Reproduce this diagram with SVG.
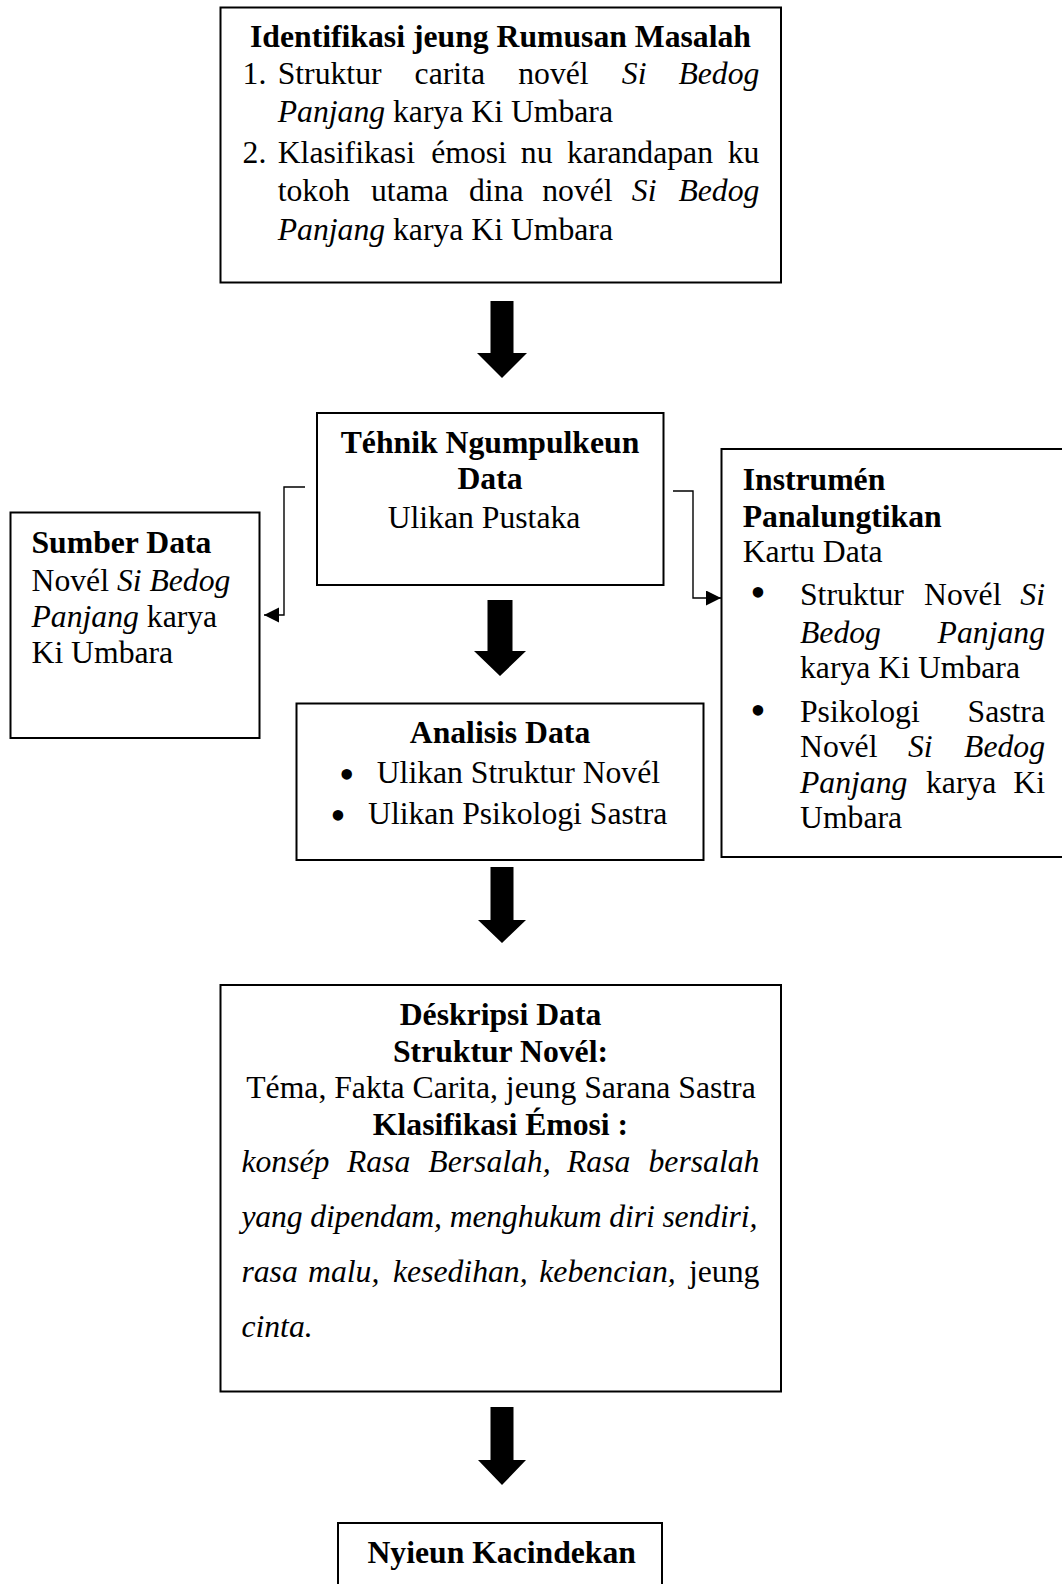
<svg xmlns="http://www.w3.org/2000/svg" width="1062" height="1584" viewBox="0 0 1062 1584">
<style>
.box{fill:#fff;stroke:#000;stroke-width:2}
text{font-family:"Liberation Serif","Times New Roman",serif;font-size:31.7px;fill:#000}
.b{font-weight:bold}
.i{font-style:italic}
.c{text-anchor:middle}
.e{text-anchor:end}
.bul{font-size:44px;text-anchor:middle}
.conn{fill:none;stroke:#000;stroke-width:1.4}
.big{fill:#000}
</style>
<defs>
<marker id="ah" markerUnits="userSpaceOnUse" markerWidth="16" markerHeight="16" refX="15" refY="7.5" orient="auto">
<path d="M0,0 L15,7.5 L0,15 Z" fill="#000"/>
</marker>
</defs>
<rect width="1062" height="1584" fill="#fff"/>

<g id="connectors">
<path class="conn" d="M305,487 H284 V615 H264" marker-end="url(#ah)"/>
<path class="conn" d="M673,491 H693 V598 H721" marker-end="url(#ah)"/>
<polygon class="big" points="490.5,301 513.5,301 513.5,353 527,353 502,378 477,353 490.5,353"/>
<polygon class="big" points="487.5,600 512.5,600 512.5,651 526,651 500,676 474,651 487.5,651"/>
<polygon class="big" points="490.5,867 513.5,867 513.5,920 526,920 502,943 478,920 490.5,920"/>
<polygon class="big" points="490.5,1407 513.5,1407 513.5,1460 526,1460 502,1485 478,1460 490.5,1460"/>
</g>

<g id="node-identifikasi">
<rect class="box" x="220.5" y="7.5" width="560.5" height="275"/>
<text class="b c" x="500.5" y="47">Identifikasi jeung Rumusan Masalah</text>
<text y="84"><tspan x="242.6">1.</tspan><tspan x="277.7">Struktur</tspan><tspan x="414.6">carita</tspan><tspan x="518.2">novél</tspan><tspan class="i" x="621.8">Si</tspan></text>
<text class="i e" x="759.4" y="84">Bedog</text>
<text x="277.7" y="122"><tspan class="i">Panjang</tspan> karya Ki Umbara</text>
<text y="163"><tspan x="242.6">2.</tspan><tspan x="277.7">Klasifikasi</tspan><tspan x="431.2">émosi</tspan><tspan x="520.8">nu</tspan><tspan x="567">karandapan</tspan></text>
<text class="e" x="759.4" y="163">ku</text>
<text y="201"><tspan x="277.7">tokoh</tspan><tspan x="371">utama</tspan><tspan x="469">dina</tspan><tspan x="542.2">novél</tspan><tspan class="i" x="631.8">Si</tspan></text>
<text class="i e" x="759.4" y="201">Bedog</text>
<text x="277.7" y="240"><tspan class="i">Panjang</tspan> karya Ki Umbara</text>
</g>

<g id="node-tehnik">
<rect class="box" x="317" y="413" width="346.5" height="172"/>
<text class="b c" x="490" y="453">Téhnik Ngumpulkeun</text>
<text class="b c" x="490" y="489">Data</text>
<text class="c" x="484" y="528">Ulikan Pustaka</text>
</g>

<g id="node-sumber">
<rect class="box" x="10.5" y="512.5" width="249" height="225.5"/>
<text class="b" x="31.5" y="553">Sumber Data</text>
<text x="31.5" y="591">Novél <tspan class="i">Si Bedog</tspan></text>
<text x="31.5" y="627"><tspan class="i">Panjang</tspan> karya</text>
<text x="31.5" y="663">Ki Umbara</text>
</g>

<g id="node-instrumen">
<rect class="box" x="721.5" y="449" width="345" height="408"/>
<text class="b" x="742.7" y="490">Instrumén</text>
<text class="b" x="742.7" y="527">Panalungtikan</text>
<text x="742.7" y="562">Kartu Data</text>
<text class="bul" x="758" y="607">•</text>
<text y="605"><tspan x="800">Struktur</tspan><tspan x="924">Novél</tspan></text>
<text class="i e" x="1045" y="605">Si</text>
<text class="i" x="800" y="643">Bedog</text>
<text class="i e" x="1045" y="643">Panjang</text>
<text x="800" y="678">karya Ki Umbara</text>
<text class="bul" x="758" y="724.5">•</text>
<text x="800" y="722">Psikologi</text>
<text class="e" x="1045" y="722">Sastra</text>
<text y="757"><tspan x="800">Novél</tspan><tspan class="i" x="908">Si</tspan></text>
<text class="i e" x="1045" y="757">Bedog</text>
<text y="793"><tspan class="i" x="800">Panjang</tspan><tspan x="926">karya</tspan></text>
<text class="e" x="1045" y="793">Ki</text>
<text x="800" y="828">Umbara</text>
</g>

<g id="node-analisis">
<rect class="box" x="296.5" y="703.5" width="407" height="156.5"/>
<text class="b c" x="500" y="743">Analisis Data</text>
<text class="bul" x="346.7" y="789">•</text>
<text x="376.7" y="783">Ulikan Struktur Novél</text>
<text class="bul" x="338" y="830">•</text>
<text x="368" y="824">Ulikan Psikologi Sastra</text>
</g>

<g id="node-deskripsi">
<rect class="box" x="220.5" y="985" width="560.5" height="406.5"/>
<text class="b c" x="500.5" y="1025">Déskripsi Data</text>
<text class="b c" x="500.5" y="1062">Struktur Novél:</text>
<text class="c" x="501" y="1098">Téma, Fakta Carita, jeung Sarana Sastra</text>
<text class="b c" x="500.5" y="1135">Klasifikasi Émosi :</text>
<text class="i" y="1172"><tspan x="241.4">konsép</tspan><tspan x="346.9">Rasa</tspan><tspan x="428.3">Bersalah,</tspan><tspan x="567">Rasa</tspan></text>
<text class="i e" x="759.4" y="1172">bersalah</text>
<text class="i" x="241.4" y="1227" textLength="516" lengthAdjust="spacing">yang dipendam, menghukum diri sendiri,</text>
<text class="i" y="1282"><tspan x="241.4">rasa</tspan><tspan x="308">malu,</tspan><tspan x="393">kesedihan,</tspan><tspan x="539.3">kebencian,</tspan></text>
<text class="e" x="759.4" y="1282">jeung</text>
<text class="i" x="241.4" y="1337">cinta.</text>
</g>

<g id="node-kacindekan">
<rect class="box" x="338" y="1523" width="324" height="80"/>
<text class="b c" x="501.7" y="1563">Nyieun Kacindekan</text>
</g>
</svg>
